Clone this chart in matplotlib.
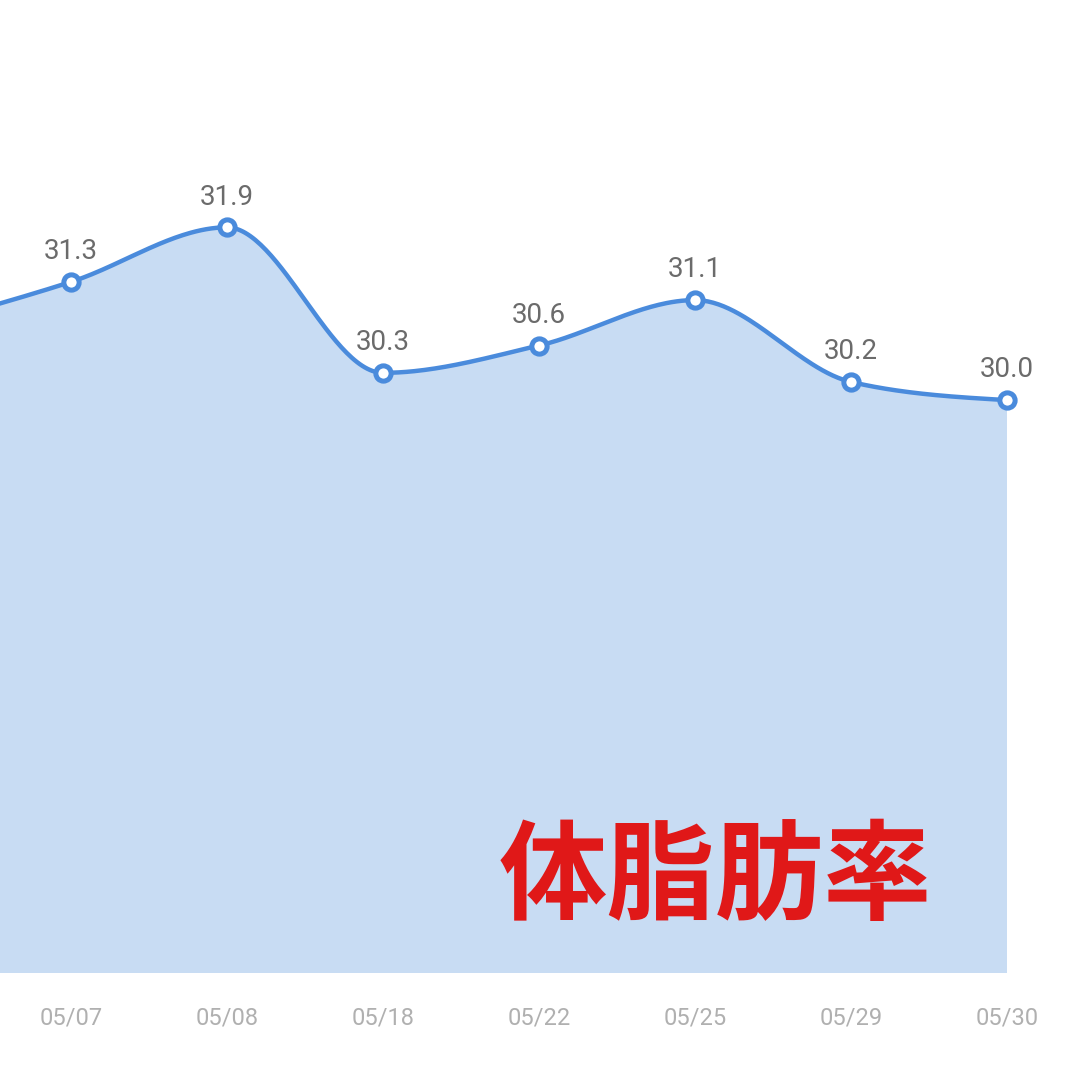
import numpy as np
import matplotlib
matplotlib.use("Agg")
import matplotlib.pyplot as plt
from matplotlib import font_manager

# ---- data ----
dates = ["05/06", "05/07", "05/08", "05/18", "05/22", "05/25", "05/29", "05/30"]
values = [30.8, 31.3, 31.9, 30.3, 30.6, 31.1, 30.2, 30.0]
label_visible = [False, True, True, True, True, True, True, True]
title_text = "体脂肪率"

# ---- fonts ----
def pick(fams):
    for f in fams:
        try:
            font_manager.findfont(f, fallback_to_default=False)
            return f
        except Exception:
            pass
    return "DejaVu Sans"

tick_font = pick(["Roboto", "DejaVu Sans"])
val_font = pick(["Roboto", "DejaVu Sans"])

# ---- monotone cubic (d3 monotoneX-like) ----
def monotone(x, y, n=60):
    x = np.asarray(x, float); y = np.asarray(y, float)
    h = np.diff(x); s = np.diff(y) / h
    m = np.zeros_like(y)
    for k in range(1, len(y) - 1):
        s0, s1 = s[k - 1], s[k]
        p = (s0 * h[k] + s1 * h[k - 1]) / (h[k - 1] + h[k])
        m[k] = (np.sign(s0) + np.sign(s1)) * min(abs(s0), abs(s1), 0.5 * abs(p))
    m[0] = (3 * s[0] - m[1]) / 2
    m[-1] = (3 * s[-1] - m[-2]) / 2
    xs, ys = [], []
    for k in range(len(h)):
        t = np.linspace(0, 1, n, endpoint=(k == len(h) - 1))
        h00 = 2 * t**3 - 3 * t**2 + 1
        h10 = t**3 - 2 * t**2 + t
        h01 = -2 * t**3 + 3 * t**2
        h11 = t**3 - t**2
        xs.append(x[k] + t * h[k])
        ys.append(h00 * y[k] + h10 * h[k] * m[k] + h01 * y[k + 1] + h11 * h[k] * m[k + 1])
    return np.concatenate(xs), np.concatenate(ys)

idx = np.arange(len(values))
xs, ys = monotone(idx, values)

fig = plt.figure(figsize=(10.8, 10.8), dpi=100)
fig.patch.set_facecolor("white")
ax = fig.add_axes([0, 107 / 1080, 1, 973 / 1080])

line_c = "#4a8bdc"
fill_c = "#c8dcf3"
ymin, ymax = 23.70, 34.40
ax.fill_between(xs, ys, ymin, color=fill_c, lw=0, zorder=1)
ax.plot(xs, ys, color=line_c, lw=3.2, zorder=2, solid_capstyle="round")
ax.plot(idx, values, "o", ms=11, mfc="white", mec=line_c, mew=3.6, zorder=3)

for i, v in enumerate(values):
    if label_visible[i]:
        ax.annotate(f"{v:.1f}", (i, v), xytext=(0, 12), textcoords="offset points",
                    ha="center", va="bottom", fontsize=20, color="#6b6b6b",
                    family=val_font)

vis = [i for i in idx if label_visible[i]]
ax.set_xticks(vis)
ax.set_xticklabels([dates[i] for i in vis], fontsize=17, color="#b0b0b0", family=tick_font)
ax.tick_params(axis="x", length=0, pad=24)
ax.set_yticks([])
for sp in ax.spines.values():
    sp.set_visible(False)
ax.set_facecolor("none")
ax.set_ylim(ymin, ymax)
ax.set_xlim(1 - 71 / 156, 1 + 1009 / 156)

fig.text(715 / 1080, 1 - 880 / 1080, title_text, ha="center", va="center",
         fontsize=78, fontweight="bold", color="#e01818",
         family=["Noto Sans CJK JP", "DejaVu Sans"])

fig.savefig("out.png", dpi=100, facecolor="white")
